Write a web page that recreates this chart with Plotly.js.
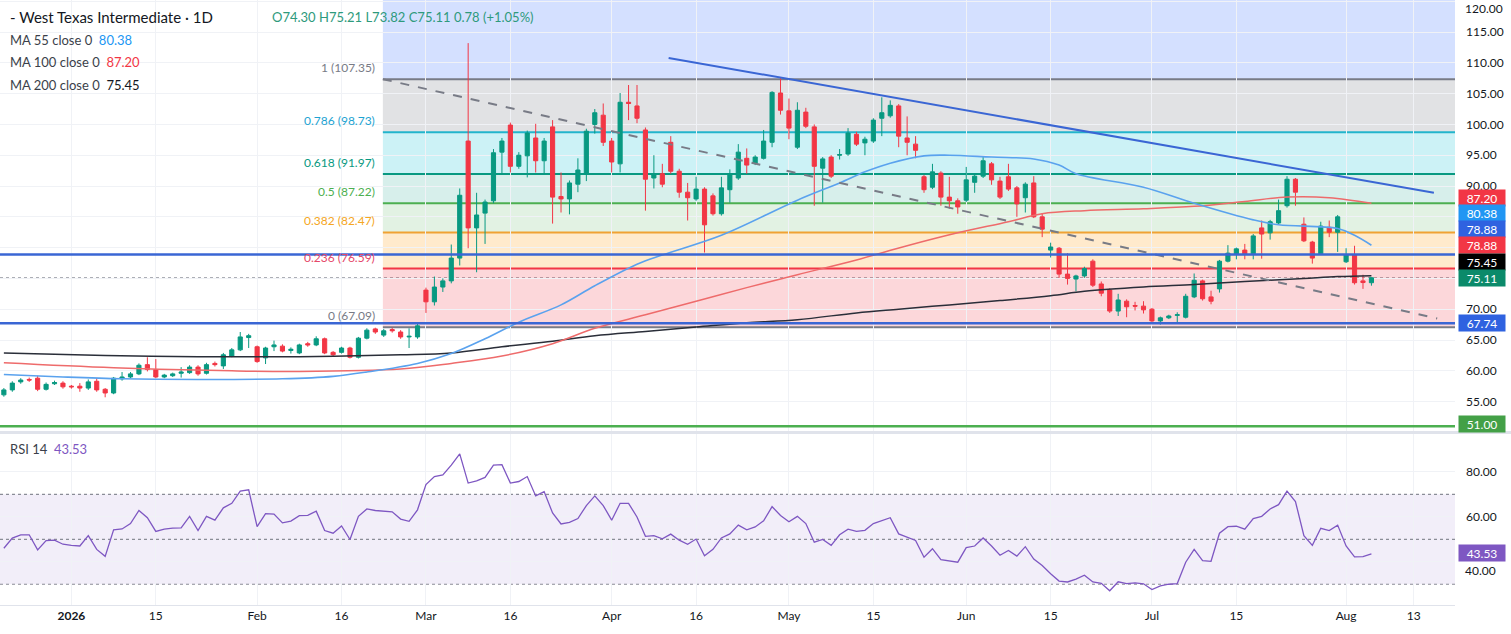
<!DOCTYPE html>
<html><head><meta charset="utf-8">
<script src="https://cdn.plot.ly/plotly-3.0.1.min.js"></script>
<style>html,body{margin:0;padding:0;background:#fff;}#chart{width:1511px;height:634px;}</style>
</head><body><div id="chart"></div>
<script>
// ---------- DATA ----------
const dates = [
"2025-12-22","2025-12-23","2025-12-24","2025-12-25","2025-12-26","2025-12-29","2025-12-30","2025-12-31",
"2026-01-01","2026-01-02","2026-01-05","2026-01-06","2026-01-07","2026-01-08","2026-01-09","2026-01-12","2026-01-13","2026-01-14","2026-01-15","2026-01-16","2026-01-19","2026-01-20","2026-01-21","2026-01-22","2026-01-23","2026-01-26","2026-01-27","2026-01-28","2026-01-29","2026-01-30",
"2026-02-02","2026-02-03","2026-02-04","2026-02-05","2026-02-06","2026-02-09","2026-02-10","2026-02-11","2026-02-12","2026-02-13","2026-02-16","2026-02-17","2026-02-18","2026-02-19","2026-02-20","2026-02-23","2026-02-24","2026-02-25","2026-02-26","2026-02-27",
"2026-03-02","2026-03-03","2026-03-04","2026-03-05","2026-03-06","2026-03-09","2026-03-10","2026-03-11","2026-03-12","2026-03-13","2026-03-16","2026-03-17","2026-03-18","2026-03-19","2026-03-20","2026-03-23","2026-03-24","2026-03-25","2026-03-26","2026-03-27","2026-03-30","2026-03-31",
"2026-04-01","2026-04-02","2026-04-06","2026-04-07","2026-04-08","2026-04-09","2026-04-10","2026-04-13","2026-04-14","2026-04-15","2026-04-16","2026-04-17","2026-04-20","2026-04-21","2026-04-22","2026-04-23","2026-04-24","2026-04-27","2026-04-28","2026-04-29","2026-04-30",
"2026-05-01","2026-05-04","2026-05-05","2026-05-06","2026-05-07","2026-05-08","2026-05-11","2026-05-12","2026-05-13","2026-05-14","2026-05-15","2026-05-18","2026-05-19","2026-05-20","2026-05-21","2026-05-22","2026-05-25","2026-05-26","2026-05-27","2026-05-28","2026-05-29",
"2026-06-01","2026-06-02","2026-06-03","2026-06-04","2026-06-05","2026-06-08","2026-06-09","2026-06-10","2026-06-11","2026-06-12","2026-06-15","2026-06-16","2026-06-17","2026-06-18","2026-06-19","2026-06-22","2026-06-23","2026-06-24","2026-06-25","2026-06-26","2026-06-29","2026-06-30",
"2026-07-01","2026-07-02","2026-07-03","2026-07-06","2026-07-07","2026-07-08","2026-07-09","2026-07-10","2026-07-13","2026-07-14","2026-07-15","2026-07-16","2026-07-17","2026-07-20","2026-07-21","2026-07-22","2026-07-23","2026-07-24","2026-07-27","2026-07-28","2026-07-29","2026-07-30","2026-07-31",
"2026-08-03","2026-08-04","2026-08-05","2026-08-06"];

const openP = [56.1,56.9,58.2,58.6,58.8,57.0,57.9,58.0,57.5,57.5,
57.2,58.3,57.0,56.4,58.7,59.0,59.5,61.0,60.2,59.0,
59.2,59.6,59.7,60.6,59.6,61.2,60.8,62.4,63.4,65.4,
63.9,62.1,63.9,64.0,63.3,62.9,64.4,64.2,65.2,63.0,
63.0,63.7,62.2,65.3,66.8,65.8,66.7,66.3,65.5,65.5,
73.1,71.2,73.6,74.6,78.3,97.3,83.2,85.6,87.6,95.5,
99.9,93.2,94.9,97.8,94.1,99.6,88.3,87.9,90.3,92.0,
100.0,101.5,97.3,93.6,103.6,103.0,99.1,91.3,92.0,97.1,
92.4,89.0,87.9,89.5,88.4,85.5,89.4,91.3,94.5,93.7,
94.5,97.1,105.1,102.2,96.3,102.0,99.6,92.9,94.7,95.0,
95.2,98.4,97.0,97.3,101.0,101.4,103.0,97.8,96.8,91.5,
89.8,92.1,88.2,87.6,87.7,90.6,91.6,93.6,90.8,91.5,
89.7,88.1,90.5,85.0,79.6,79.9,75.7,74.9,75.4,77.8,
74.1,73.1,69.7,71.3,70.6,70.5,70.0,68.1,68.6,69.0,
68.7,72.0,74.6,72.0,73.3,77.8,78.9,79.6,79.0,83.2,
82.4,84.0,86.8,91.1,83.8,80.9,79.0,83.3,82.5,77.7,
78.8,74.6,74.30];

const highP = [57.2,58.3,58.8,58.9,59.2,58.1,58.4,58.3,57.7,58.0,
58.6,58.8,57.2,59.0,59.8,59.8,61.2,62.2,61.9,59.5,
59.7,60.6,60.9,60.9,61.3,61.5,62.9,63.7,66.3,66.0,
64.1,63.9,64.9,64.3,63.8,64.4,64.7,65.6,65.4,63.2,
63.9,63.9,65.5,66.9,67.0,66.8,67.0,66.6,66.9,67.6,
73.5,75.3,75.0,80.5,89.6,113.2,88.9,87.8,96.0,97.8,
100.3,95.5,99.0,100.1,97.8,100.7,92.2,90.9,94.5,99.3,
102.5,103.4,97.8,105.1,106.4,106.4,99.5,95.0,93.6,98.1,
92.8,90.5,91.5,89.8,88.8,91.5,92.7,96.8,96.1,95.0,
99.1,105.4,107.5,104.2,103.6,102.7,100.0,94.7,95.0,96.0,
99.4,98.8,98.0,101.0,104.4,103.9,103.3,101.3,98.1,91.8,
93.6,92.4,91.5,88.0,93.1,91.9,94.8,93.9,91.5,93.6,
90.0,90.6,91.6,85.6,80.8,80.1,79.1,75.6,76.9,78.1,
74.5,73.4,72.5,71.6,71.2,71.3,70.2,68.8,69.1,69.5,
72.5,75.8,74.8,73.0,78.0,80.4,80.0,80.6,82.2,84.4,
84.5,87.8,91.6,91.3,84.9,81.1,84.2,84.4,85.3,79.9,
80.3,75.6,75.21];

const lowP = [55.8,56.6,57.9,58.2,56.7,56.8,57.7,57.1,57.1,56.6,
56.9,56.6,55.7,56.2,58.4,58.8,59.3,59.9,58.8,58.8,
59.0,58.9,59.5,59.2,59.4,60.7,60.3,62.2,63.2,63.7,
61.3,61.1,63.2,63.0,62.8,62.7,63.9,64.0,62.7,62.4,
62.8,62.0,62.0,65.1,66.0,65.5,66.2,65.2,63.7,65.2,
69.4,70.6,72.8,74.2,77.1,79.9,76.0,80.6,87.2,91.8,
92.2,92.8,91.4,92.2,92.0,83.9,85.7,85.4,89.0,90.8,
98.5,96.5,92.2,92.2,100.7,100.2,86.0,89.6,89.8,92.0,
88.1,84.4,87.6,79.2,85.2,85.2,87.3,91.0,92.0,93.4,
94.3,96.3,101.6,97.6,96.0,99.4,86.8,87.3,91.3,94.3,
94.9,96.5,95.0,97.0,98.1,101.1,96.3,95.0,94.5,88.9,
89.5,86.8,86.3,85.5,87.4,88.9,91.3,90.2,87.9,89.2,
85.0,85.7,84.8,81.7,78.4,75.1,74.0,72.9,75.1,73.6,
72.1,69.4,68.9,68.7,69.8,69.3,67.9,67.5,68.4,67.9,
68.5,71.8,71.4,70.8,72.7,77.6,78.1,78.1,78.1,78.2,
81.3,83.8,86.5,86.8,80.9,77.4,78.8,81.7,79.3,77.5,
74.0,73.3,73.82];

const closeP = [56.9,58.0,58.5,58.5,57.0,57.8,58.1,57.4,57.4,57.2,
58.2,56.9,56.4,58.8,59.0,59.5,60.9,60.2,59.0,59.3,
59.5,59.8,60.6,59.5,61.0,61.0,62.6,63.4,65.5,65.7,
61.5,63.7,64.2,63.2,63.5,64.2,64.2,65.2,62.9,62.6,
63.7,62.2,65.3,66.6,66.3,66.5,66.5,65.5,65.6,67.3,
71.2,73.6,74.6,78.3,88.5,83.2,85.3,87.4,95.4,97.3,
93.2,95.0,98.6,94.1,97.3,88.2,87.9,90.5,92.6,98.9,
101.9,97.1,93.9,103.6,103.4,101.0,91.1,91.8,90.3,92.4,
89.0,88.1,89.5,83.7,85.5,89.7,92.0,95.5,93.4,94.7,
97.3,105.2,102.3,99.4,102.3,99.7,93.2,94.4,91.6,95.1,
98.6,96.8,97.6,100.7,101.9,103.1,98.1,97.1,95.8,89.4,
92.3,88.2,87.6,86.6,91.0,91.6,94.1,91.0,88.2,89.5,
87.1,90.3,85.0,83.0,80.1,75.7,75.0,75.4,76.6,73.9,
72.6,69.7,71.5,70.4,70.5,69.9,68.1,68.6,68.9,69.1,
72.1,74.7,71.7,71.3,77.8,79.1,79.8,79.0,81.9,82.2,
84.2,86.0,91.1,89.0,81.1,78.3,83.5,82.5,85.0,78.8,
74.3,74.33,75.11];

const rsi14 = [46,50.5,52,52,45.3,49.4,49.6,47.8,47.3,47,
51.6,45.5,42.4,54.2,54.6,57,62.8,59.6,53.5,54.5,
55,55.1,60.2,53.9,60.2,58.5,64,66,71.4,72,
55.6,61.4,61.2,57.3,58.1,60.5,60.6,62.5,53.9,52.7,
55.9,49.9,60.2,63.5,62.8,62.6,62.2,59,58,63.1,
74.3,77.9,78.6,83,88,75,76,77.5,83,83.2,
75,75.7,77.9,69.3,71.2,61.7,56.8,57.5,59.2,65,
69.3,65,58.5,66,66,59.9,51.3,51.6,50.2,52.3,
49.6,47.8,50.1,42.7,45.5,50.6,52.4,56.3,54.2,55.5,
58.2,64.5,60.6,57.8,60.2,57,48.7,49.9,47.3,52,
54.5,53.5,54,57,58.2,59.6,52.4,51,49.5,42,
45.8,40.9,40.5,39.8,46.3,47,50.6,47,42.9,45,
42.5,46.7,41.2,38.3,34.7,31.4,31,32.3,34,31,
30.4,27.1,31.1,30.3,30.6,30.2,27.6,29.3,30,30.3,
39.8,45.5,40.5,40.2,52.7,55.6,55.8,54.5,59.2,60.2,
63.5,65.4,71.4,66.8,51.6,47.3,54.9,53.9,56.3,47,
42.2,42.3,43.53];

const ma55Dates = ["2025-12-22","2025-12-31","2026-01-09","2026-01-22","2026-02-05","2026-02-13","2026-02-19","2026-02-27","2026-03-05","2026-03-11","2026-03-17","2026-03-24","2026-03-30","2026-04-07","2026-04-10","2026-04-21","2026-05-04","2026-05-11","2026-05-14","2026-05-19","2026-05-25","2026-05-28","2026-06-04","2026-06-11","2026-06-16","2026-06-18","2026-06-30","2026-07-08","2026-07-17","2026-07-22","2026-07-31","2026-08-04","2026-08-06"];
const ma55 = [59.4,59.0,58.7,58.6,58.7,59.1,59.8,61.2,62.8,65.2,67.9,70.7,73.8,77.3,78.8,82.0,87.7,90.5,92.3,93.7,94.9,95.0,94.7,94.4,93.4,92.0,89.8,87.2,84.5,83.7,83.1,82.0,80.38];

const ma100Dates = ["2025-12-22","2026-01-08","2026-01-28","2026-02-09","2026-02-25","2026-03-05","2026-03-13","2026-03-23","2026-03-30","2026-04-08","2026-04-16","2026-04-24","2026-05-04","2026-05-13","2026-05-21","2026-05-29","2026-06-08","2026-06-12","2026-06-19","2026-06-30","2026-07-08","2026-07-16","2026-07-23","2026-07-30","2026-08-06"];
const ma100 = [61.3,60.5,60.0,59.9,60.3,61.2,62.4,64.4,66.9,69.1,71.3,73.5,75.6,78.0,80.3,82.4,84.2,85.5,86.0,86.3,86.7,87.5,88.2,88.1,87.20];

const ma200Dates = ["2025-12-22","2026-01-07","2026-01-22","2026-02-09","2026-02-25","2026-03-05","2026-03-13","2026-03-23","2026-03-30","2026-04-08","2026-04-16","2026-04-24","2026-05-04","2026-05-13","2026-05-20","2026-05-28","2026-06-05","2026-06-15","2026-06-19","2026-06-30","2026-07-08","2026-07-16","2026-07-27","2026-07-31","2026-08-06"];
const ma200 = [62.9,62.5,62.3,62.3,62.6,62.9,63.9,64.8,65.7,66.4,67.1,67.8,68.3,69.4,70.0,70.7,71.4,72.2,72.9,73.6,74.0,74.5,75.0,75.3,75.45];

const fibRatios = ["1","0.786","0.618","0.5","0.382","0.236","0"];
const fibLevels = [107.35, 98.73, 91.97, 87.22, 82.47, 76.59, 67.09];
const fibStart = "2026-02-20 21:30";

const trendDates = ["2026-04-10 18:00","2026-08-17 09:36"];
const trendPrices = [110.8, 88.9];
const fibTrendDates = ["2026-02-20 21:30","2026-08-17 19:00"];
const fibTrendPrices = [107.35, 68.5];

const hLineValues = [78.88, 67.74, 51.00];
const lastClose = 75.11;

const tickDates = ["2026-01-01","2026-01-15","2026-02-02","2026-02-16","2026-03-02","2026-03-16","2026-04-01","2026-04-16","2026-05-01","2026-05-15","2026-06-01","2026-06-15","2026-07-01","2026-07-15","2026-08-03","2026-08-13"];
const tickText = ["<b>2026</b>","15","Feb","16","Mar","16","Apr","16","May","15","Jun","15","Jul","15","Aug","13"];
const priceTicks = [55,60,65,70,75,80,85,90,95,100,105,110,115,120];
const priceTickText = ["55.00","60.00","65.00","70.00","","","","90.00","95.00","100.00","105.00","110.00","115.00",""];
const topTickText = "120.00";
const rsiTicks = [40,60,80];
const rsiTickText = ["","60.00","80.00"];
const rsiLowTickText = "40.00";

const boxValues = ["87.20","80.38","78.88","78.88","75.45","75.11","67.74","51.00","43.53"];

// ---------- STYLE / LAYOUT ----------
const PW = 1455, PH = 605;
const px = v => v / PW, py = v => 1 - v / PH;
const FONT = 'Lato, "Open Sans", "DejaVu Sans", sans-serif';
const xEnd = "2026-08-19 21:36";

const fibLineColors = ["#787b86","#22b5cc","#089981","#4caf50","#f0a233","#f23645","#787b86"];
const fibTextColors = ["#787b86","#1ea3d2","#089981","#4caf50","#f5a623","#e5486a","#787b86"];
const fibZoneColors = ["rgba(41,98,255,0.2)","rgba(120,123,134,0.22)","rgba(0,188,212,0.2)","rgba(8,153,129,0.16)","rgba(76,175,80,0.16)","rgba(255,152,0,0.2)","rgba(242,54,69,0.2)"];
const hLineColors = ["#3a66d4","#3a66d4","#4caf50"];
const boxColors = ["#f23645","#2196f3","#2f62e0","#f23645","#000000","#0b8a6a","#2f62e0","#43a047","#7e57c2"];
const boxPy = [198,213,229,245,262,278,323,424,553];

const traces = [
  {type:'candlestick', x:dates, open:openP, high:highP, low:lowP, close:closeP,
   xaxis:'x', yaxis:'y', hoverinfo:'skip', whiskerwidth:0,
   increasing:{line:{color:'#089981',width:1}, fillcolor:'#089981'},
   decreasing:{line:{color:'#f23645',width:1}, fillcolor:'#f23645'}},
  {type:'scatter', mode:'lines', x:ma200Dates, y:ma200, line:{color:'#2a2e39',width:1.5,shape:'spline'}, hoverinfo:'skip', xaxis:'x', yaxis:'y'},
  {type:'scatter', mode:'lines', x:ma100Dates, y:ma100, line:{color:'#ee6b6b',width:1.5,shape:'spline'}, hoverinfo:'skip', xaxis:'x', yaxis:'y'},
  {type:'scatter', mode:'lines', x:ma55Dates, y:ma55, line:{color:'#5aa2ee',width:1.6,shape:'spline'}, hoverinfo:'skip', xaxis:'x', yaxis:'y'},
  {type:'scatter', mode:'lines', x:trendDates, y:trendPrices, line:{color:'#3a66d4',width:2}, hoverinfo:'skip', xaxis:'x', yaxis:'y'},
  {type:'scatter', mode:'lines', x:fibTrendDates, y:fibTrendPrices, line:{color:'#787b86',width:2,dash:'dash'}, hoverinfo:'skip', xaxis:'x', yaxis:'y'},
  {type:'scatter', mode:'lines', x:dates, y:rsi14, line:{color:'#7e57c2',width:1.3}, hoverinfo:'skip', xaxis:'x', yaxis:'y2'}
];

const shapes = [];
const zoneTops = [120.2].concat(fibLevels.slice(0,6));
const zoneBottoms = fibLevels.slice(0,7);
for (let i = 0; i < 7; i++) {
  shapes.push({type:'rect', xref:'x', yref:'y', x0:fibStart, x1:xEnd, y0:zoneBottoms[i], y1:zoneTops[i], fillcolor:fibZoneColors[i], line:{width:0}, layer:'below'});
}
fibLevels.forEach((lv,i) => shapes.push({type:'line', xref:'x', yref:'y', x0:fibStart, x1:xEnd, y0:lv, y1:lv, line:{color:fibLineColors[i], width:2}, layer:'below'}));
shapes.push({type:'line', xref:'paper', yref:'y', x0:0, x1:1, y0:lastClose, y1:lastClose, line:{color:'#9598a1', width:1, dash:'dot'}, layer:'below'});
hLineValues.forEach((v,i) => shapes.push({type:'line', xref:'paper', yref:'y', x0:0, x1:1, y0:v, y1:v, line:{color:hLineColors[i], width:2.5}}));
shapes.push({type:'rect', xref:'paper', yref:'y2', x0:0, x1:1, y0:30, y1:70, fillcolor:'rgba(126,87,194,0.1)', line:{width:0}, layer:'below'});
[70,50,30].forEach(v => shapes.push({type:'line', xref:'paper', yref:'y2', x0:0, x1:1, y0:v, y1:v, line:{color:'#8a8d96', width:1.2, dash:'dot'}, layer:'below'}));
shapes.push({type:'line', xref:'paper', yref:'paper', x0:0, x1:1.04, y0:py(432.5), y1:py(432.5), line:{color:'#e0e3eb', width:3}});

const annotations = [];
fibLevels.forEach((lv,i) => annotations.push({xref:'x', yref:'y', x:fibStart, y:lv, xanchor:'right', yanchor:'bottom', xshift:-6, yshift:2, showarrow:false, text:fibRatios[i] + ' (' + lv.toFixed(2) + ')', font:{family:FONT, size:12, color:fibTextColors[i]}}));
annotations.push({xref:'paper', yref:'paper', x:px(8), y:py(17), xanchor:'left', yanchor:'middle', showarrow:false, text:'- West Texas Intermediate · 1D', font:{family:FONT, size:15, color:'#131722'}});
annotations.push({xref:'paper', yref:'paper', x:px(270), y:py(17), xanchor:'left', yanchor:'middle', showarrow:false, text:'O' + openP[162].toFixed(2) + ' H' + highP[162].toFixed(2) + ' L' + lowP[162].toFixed(2) + ' C' + closeP[162].toFixed(2) + ' 0.78 (+1.05%)', font:{family:FONT, size:13, color:'#2e9a7c'}});
const maLegend = [["MA 55 close 0", ma55[ma55.length-1].toFixed(2), '#2196f3', 40],["MA 100 close 0", ma100[ma100.length-1].toFixed(2), '#f23645', 62],["MA 200 close 0", ma200[ma200.length-1].toFixed(2), '#131722', 85]];
maLegend.forEach(m => annotations.push({xref:'paper', yref:'paper', x:px(8), y:py(m[3]), xanchor:'left', yanchor:'middle', showarrow:false, text:m[0] + '  <span style="color:' + m[2] + '">' + m[1] + '</span>', font:{family:FONT, size:13, color:'#3b3f4a'}}));
annotations.push({xref:'paper', yref:'paper', x:px(8), y:py(449), xanchor:'left', yanchor:'middle', showarrow:false, text:'RSI 14  <span style="color:#7e57c2">' + rsi14[rsi14.length-1].toFixed(2) + '</span>', font:{family:FONT, size:13, color:'#3b3f4a'}});
annotations.push({xref:'paper', yref:'paper', x:1, xanchor:'left', xshift:8, y:py(8), yanchor:'middle', showarrow:false, text:topTickText, font:{family:FONT, size:12, color:'#131722'}});
annotations.push({xref:'paper', yref:'paper', x:1, xanchor:'left', xshift:8, y:py(570), yanchor:'middle', showarrow:false, text:rsiLowTickText, font:{family:FONT, size:12, color:'#131722'}});
boxValues.forEach((t,i) => annotations.push({xref:'paper', yref:'paper', x:1, xanchor:'left', xshift:3, y:py(boxPy[i]), yanchor:'middle', showarrow:false, text:t, bgcolor:boxColors[i], width:44, height:14, borderpad:1, font:{family:FONT, size:12, color:'#ffffff'}}));

const layout = {
  width:1511, height:634, margin:{l:0, r:56, t:0, b:29, pad:0},
  paper_bgcolor:'#ffffff', plot_bgcolor:'#ffffff', showlegend:false,
  font:{family:FONT, size:12, color:'#131722'},
  xaxis:{type:'date', range:["2025-12-19 13:00", xEnd], rangebreaks:[{bounds:['sat','mon']},{values:['2026-04-03']}],
    rangeslider:{visible:false}, tickmode:'array', tickvals:tickDates, ticktext:tickText, anchor:'y2',
    showgrid:true, gridcolor:'#f0f2f6', zeroline:false, ticks:'', showline:true, linecolor:'#e0e3eb',
    tickfont:{family:FONT, size:12, color:'#131722'}, automargin:false, fixedrange:true},
  yaxis:{domain:[0.286,1], range:[50.07,120.2], side:'right', anchor:'x', tickmode:'array', tickvals:priceTicks, ticktext:priceTickText,
    showgrid:true, gridcolor:'#f0f2f6', zeroline:false, ticks:'', ticklabelstandoff:10, automargin:false,
    tickfont:{family:FONT, size:12, color:'#131722'}, fixedrange:true},
  yaxis2:{domain:[0,0.284], range:[20.76,97.2], side:'right', anchor:'x', tickmode:'array', tickvals:rsiTicks, ticktext:rsiTickText,
    showgrid:true, gridcolor:'#f0f2f6', zeroline:false, ticks:'', ticklabelstandoff:10, automargin:false,
    tickfont:{family:FONT, size:12, color:'#131722'}, fixedrange:true},
  shapes:shapes, annotations:annotations
};

Plotly.newPlot('chart', traces, layout, {displayModeBar:false, staticPlot:true});
</script>
</body></html>
